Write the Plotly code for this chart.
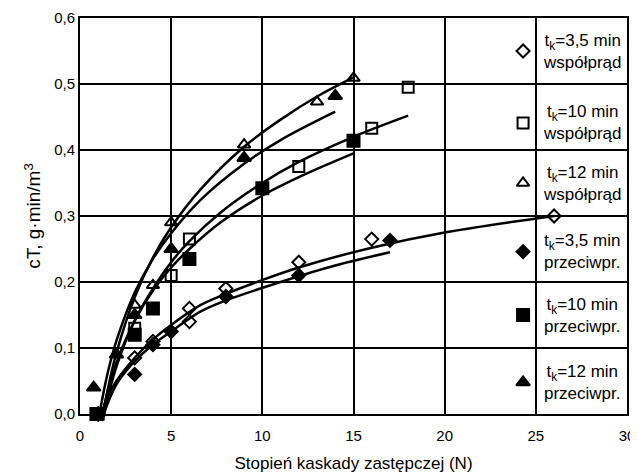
import plotly.graph_objects as go

# ---- measured points (N, cT) ----
od_x = [1, 3, 4, 6, 6, 8, 12, 16, 26]            # tk=3,5 min współprąd (open diamond)
od_y = [0.0, 0.085, 0.11, 0.16, 0.14, 0.19, 0.23, 0.265, 0.30]
fd_x = [1, 3, 4, 5, 8, 12, 17]                    # tk=3,5 min przeciwpr. (filled diamond)
fd_y = [0.0, 0.06, 0.105, 0.125, 0.178, 0.21, 0.263]
os_x = [1, 3, 5, 6, 12, 16, 18]                   # tk=10 min współprąd (open square)
os_y = [0.0, 0.13, 0.21, 0.265, 0.375, 0.433, 0.495]
fs_x = [0.9, 3, 4, 6, 10, 15]                     # tk=10 min przeciwpr. (filled square)
fs_y = [0.0, 0.12, 0.16, 0.235, 0.342, 0.414]
ot_x = [1, 3, 4, 5, 9, 13, 15]                    # tk=12 min współprąd (open triangle)
ot_y = [0.0, 0.165, 0.195, 0.29, 0.408, 0.473, 0.509]
ft_x = [0.75, 2, 3, 5, 9, 14]                     # tk=12 min przeciwpr. (filled triangle)
ft_y = [0.04, 0.09, 0.15, 0.25, 0.388, 0.482]

# ---- fitted curves ----
cA_x = [1.2, 1.5, 2, 3, 4, 5, 6.6, 8, 9.7, 12, 16, 20, 26]
cA_y = [0.0, 0.025, 0.05, 0.085, 0.113, 0.135, 0.165, 0.182, 0.2, 0.222, 0.252, 0.275, 0.30]
cB_x = [1.3, 2, 3, 4, 5, 6.6, 8, 11, 14, 17]
cB_y = [0.0, 0.045, 0.08, 0.105, 0.125, 0.155, 0.172, 0.2, 0.225, 0.245]
cS1_x = [1.32, 1.6, 2, 3, 4, 5, 6, 7.7, 10, 12, 15, 18]
cS1_y = [0.0, 0.033, 0.072, 0.142, 0.19, 0.23, 0.262, 0.305, 0.35, 0.382, 0.42, 0.452]
cS2_x = [1.22, 1.6, 2, 3, 4, 5, 6, 7.7, 10, 12, 15]
cS2_y = [0.0, 0.043, 0.078, 0.141, 0.187, 0.222, 0.25, 0.29, 0.331, 0.359, 0.395]
cT1_x = [1.27, 1.6, 2, 3, 4, 5, 6.6, 9, 11, 13, 15]
cT1_y = [0.0, 0.047, 0.093, 0.177, 0.237, 0.283, 0.34, 0.405, 0.446, 0.481, 0.51]
cT2_x = [1.07, 1.5, 2, 3, 4, 5, 6.6, 9, 11, 14]
cT2_y = [0.0, 0.06, 0.111, 0.184, 0.235, 0.274, 0.324, 0.379, 0.415, 0.458]

x_ticks = [0, 5, 10, 15, 20, 25, 30]
y_ticks = [0.0, 0.1, 0.2, 0.3, 0.4, 0.5, 0.6]

legend_labels = [
    "t<sub>k</sub>=3,5 min<br>współprąd",
    "t<sub>k</sub>=10 min<br>współprąd",
    "t<sub>k</sub>=12 min<br>współprąd",
    "t<sub>k</sub>=3,5 min<br>przeciwpr.",
    "t<sub>k</sub>=10 min<br>przeciwpr.",
    "t<sub>k</sub>=12 min<br>przeciwpr.",
]

FONT = "Liberation Sans, Arial, sans-serif"

fig = go.Figure()

for cx, cy in [(cA_x, cA_y), (cB_x, cB_y), (cS1_x, cS1_y), (cS2_x, cS2_y),
               (cT1_x, cT1_y), (cT2_x, cT2_y)]:
    fig.add_trace(go.Scatter(x=cx, y=cy, mode="lines", line=dict(color="black", width=2.5, shape="spline"),
                             showlegend=False, hoverinfo="skip"))

series = [
    (od_x, od_y, "diamond-open", 10),
    (os_x, os_y, "square-open", 11),
    (ot_x, ot_y, "triangle-up-open", 11),
    (fd_x, fd_y, "diamond", 10),
    (fs_x, fs_y, "square", 12),
    (ft_x, ft_y, "triangle-up", 12),
]
for (sx, sy, sym, sz) in series:
    fig.add_trace(go.Scatter(x=sx, y=sy, mode="markers",
                             marker=dict(symbol=sym, size=sz, color="black",
                                         line=dict(color="black", width=2)),
                             showlegend=False, cliponaxis=False))

# custom legend inside the 25-30 column
row_y = [0.55, 0.441, 0.35, 0.246, 0.15, 0.048]
for (sx, sy, sym, sz), ry, lab in zip(series, row_y, legend_labels):
    fig.add_trace(go.Scatter(x=[24.3], y=[ry], mode="markers",
                             marker=dict(symbol=sym, size=sz, color="black",
                                         line=dict(color="black", width=2)),
                             showlegend=False, hoverinfo="skip"))
    fig.add_annotation(x=27.55, y=ry, xref="x", yref="y", text=lab, showarrow=False,
                       xanchor="center", yanchor="middle", align="center",
                       font=dict(family=FONT, size=17, color="black"))

fig.update_layout(
    width=630, height=467,
    margin=dict(l=72, r=11, t=10, b=61),
    paper_bgcolor="white", plot_bgcolor="white",
    separators=", ",
    font=dict(family=FONT, size=14, color="black"),
    xaxis=dict(range=[0, 30], tickvals=x_ticks, showgrid=True, gridcolor="black", gridwidth=1.5,
               zeroline=False, showline=True, linecolor="black", linewidth=2, mirror=True,
               ticks="", tickfont=dict(size=15), automargin=False, ticklabelstandoff=7,
               title=dict(text="Stopień kaskady zastępczej (N)", font=dict(size=17), standoff=14)),
    yaxis=dict(range=[0, 0.6], tickvals=y_ticks, tickformat=".1f", showgrid=True, gridcolor="black",
               gridwidth=1.5, zeroline=False, showline=True, linecolor="black", linewidth=2, mirror=True,
               ticks="", tickfont=dict(size=15), automargin=False,
               title=dict(text="cT, g·min/m<sup>3</sup>", font=dict(size=19), standoff=8)),
)

fig.write_html("out.html")
